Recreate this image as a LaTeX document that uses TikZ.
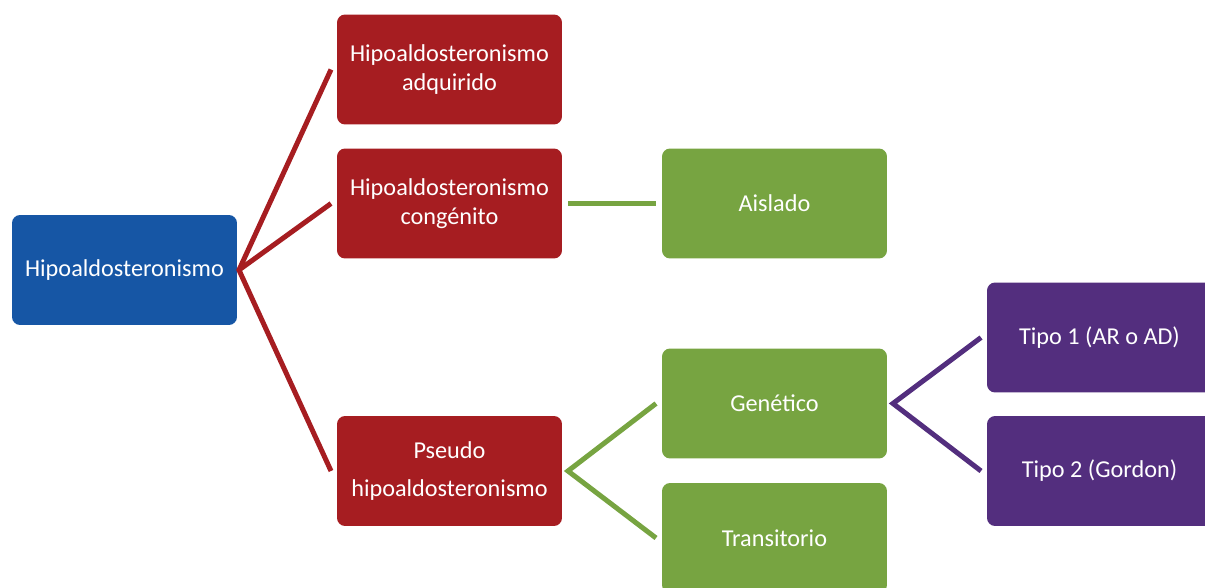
\documentclass[tikz,border=0pt]{standalone}
\usepackage{fontspec}
\setmainfont{Carlito}
\definecolor{rootblue}{RGB}{22,86,165}
\definecolor{boxred}{RGB}{166,29,33}
\definecolor{boxgreen}{RGB}{119,164,65}
\definecolor{boxpurple}{RGB}{83,46,126}
\tikzset{
  box/.style={rectangle, rounded corners=0.16cm, minimum width=4.5cm,
    minimum height=2.2cm, inner sep=0pt, outer xsep=0.12cm, text=white,
    align=center, font=\fontsize{13.8}{16.5}\selectfont},
  rootbox/.style={box, fill=rootblue, outer xsep=0.04cm},
  redbox/.style={box, fill=boxred},
  greenbox/.style={box, fill=boxgreen},
  purplebox/.style={box, fill=boxpurple},
  link/.style={line width=0.1cm},
  redlink/.style={link, draw=boxred},
  greenlink/.style={link, draw=boxgreen},
  purplelink/.style={link, draw=boxpurple}
}
\begin{document}
\begin{tikzpicture}[x=0.02cm, y=-0.02cm]
    \useasboundingbox (0,0) rectangle (1205,588);
    \clip (0,0) rectangle (1205,588);

    % levels of the tree
    \node[rootbox] (hipo) at (124.5,270) {Hipoaldosteronismo};

    \node[redbox] (adq) at (449.5,69.5) {Hipoaldosteronismo\\adquirido};
    \node[redbox] (cong) at (449.5,203.5) {Hipoaldosteronismo\\congénito};
    \node[redbox] (pseudo) at (449.5,471) {Pseudo\\[5pt]hipoaldosteronismo};

    \node[greenbox] (aislado) at (774.5,203.5) {Aislado};
    \node[greenbox] (genet) at (774.5,403.5) {Genético};
    \node[greenbox] (trans) at (774.5,538) {Transitorio};

    \node[purplebox] (tipoa) at (1099.5,337.5) {Tipo 1 (AR o AD)};
    \node[purplebox] (tipob) at (1099.5,471) {Tipo 2 (Gordon)};

    % connectors
    \draw[redlink] (adq.west) -- (hipo.east) -- (pseudo.west);
    \draw[redlink] (hipo.east) -- (cong.west);

    \draw[greenlink] (cong.east) -- (aislado.west);
    \draw[greenlink] (genet.west) -- (pseudo.east) -- (trans.west);

    \draw[purplelink] (tipoa.west) -- (genet.east) -- (tipob.west);
\end{tikzpicture}
\end{document}
